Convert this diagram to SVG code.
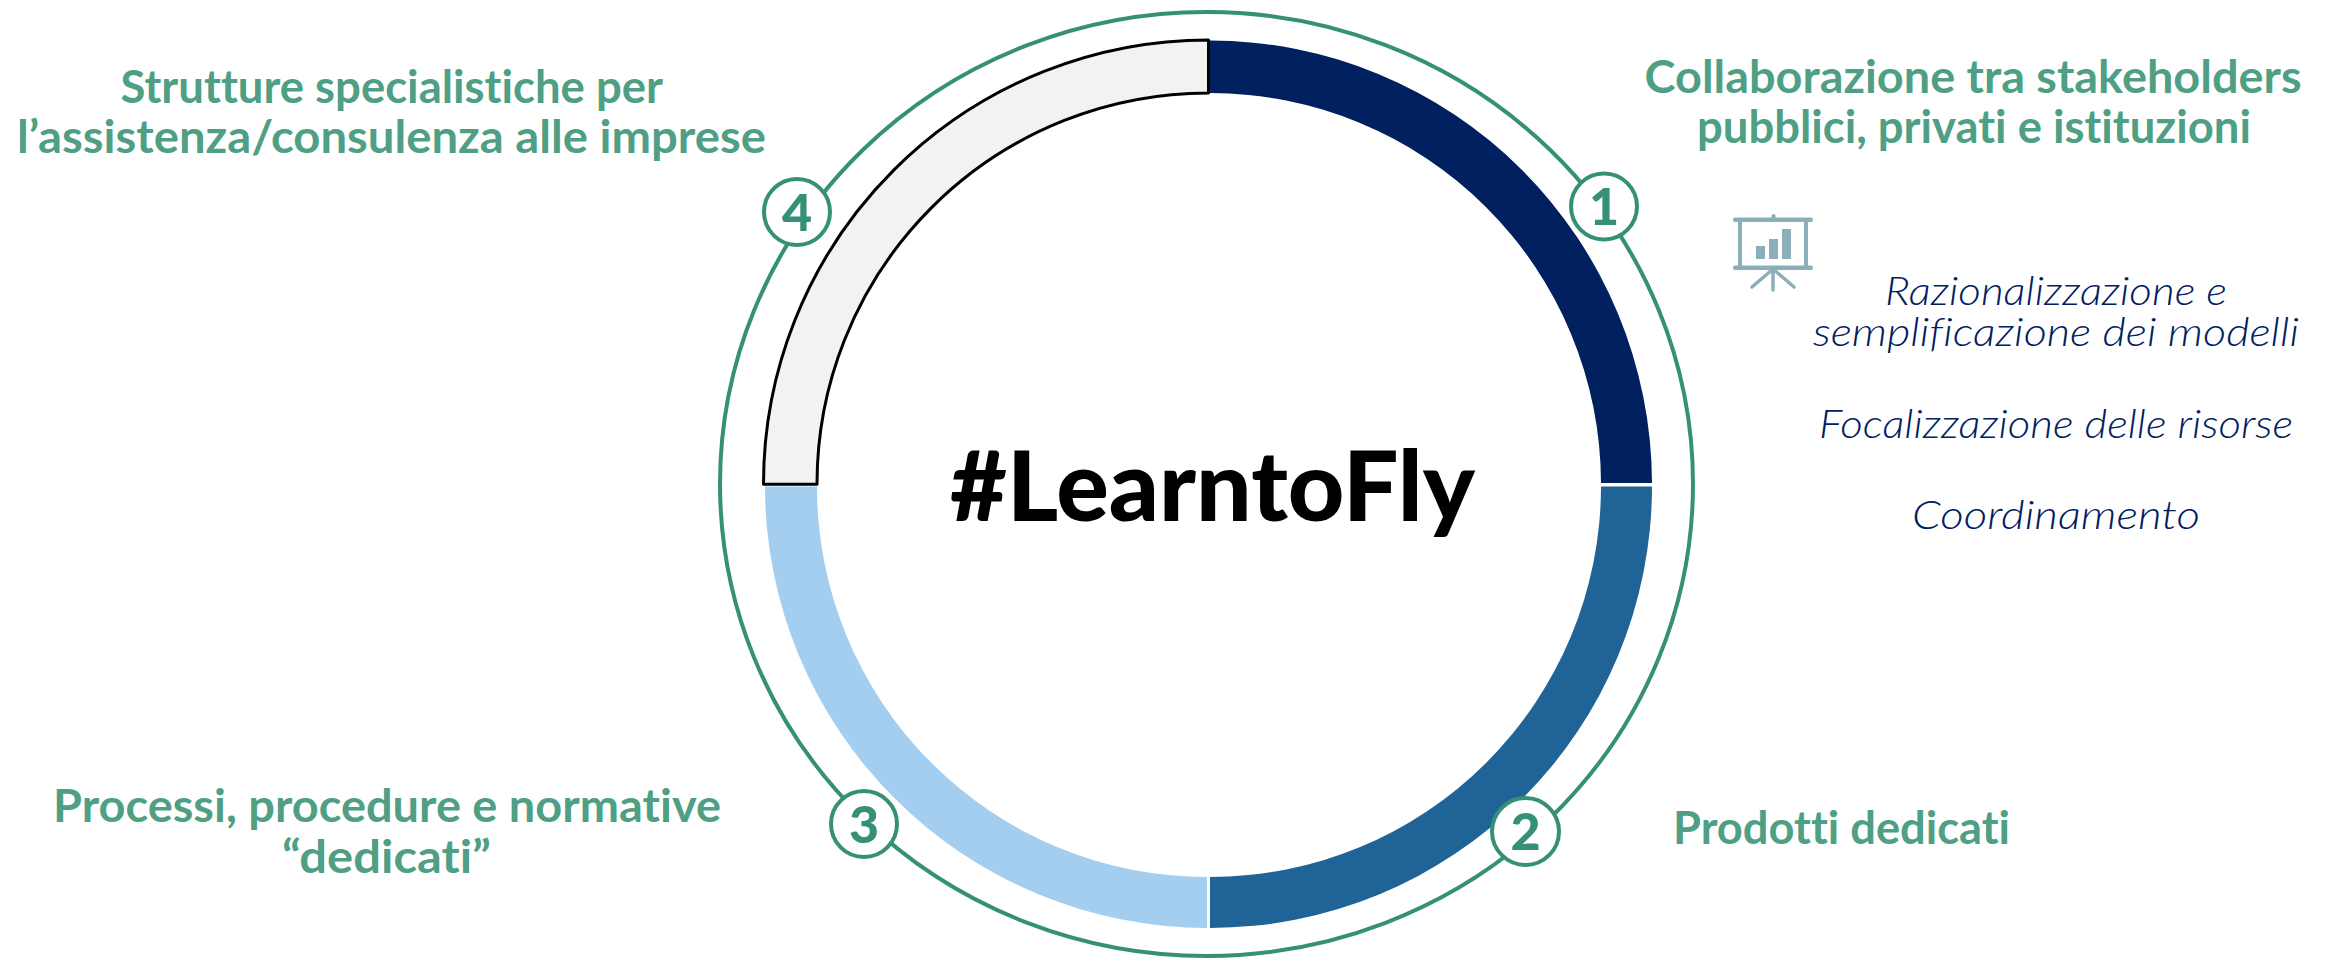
<svg xmlns="http://www.w3.org/2000/svg" width="2333" height="958" viewBox="0 0 2333 958">
<style>
text{font-variant-ligatures:none}
.h{font-family:"Lato","Liberation Sans",sans-serif;font-weight:700;font-size:45px;fill:#4f9f84}
.i{font-family:"Lato","Liberation Sans",sans-serif;font-style:italic;font-weight:300;font-size:39px;fill:#002060}
.n{font-family:"Lato","Liberation Sans",sans-serif;font-weight:900;font-size:52px;fill:#359077;text-anchor:middle}
.b{fill:#fff;stroke:#359077;stroke-width:4}
.seg{stroke:none}
</style>
<rect width="2333" height="958" fill="#fff"/>
<g id="connectors">
<ellipse cx="1206.5" cy="484" rx="486.5" ry="472" fill="none" stroke="#359077" stroke-width="4"/>
</g>
<g id="ring">
<path class="seg" fill="#002060" d="M1210 40.5A442 444 0 0 1 1652 483V483H1601A391 391 0 0 0 1210 93Z"/>
<path class="seg" fill="#1f6397" d="M1652 486.5A442 442 0 0 1 1210 928V877A391 391 0 0 0 1601 486.5Z"/>
<path class="seg" fill="#a3ceef" d="M1207 928A443 442 0 0 1 765 486.5H817A390 390 0 0 0 1207 877Z"/>
<path fill="#f2f2f2" stroke="#000" stroke-width="3" stroke-linejoin="round" d="M1208.500 40A445 444 0 0 0 763.500 484.300H817A391.500 391 0 0 1 1208.500 93Z"/>
</g>
<g id="center"><text x="950" y="520.700" textLength="525" lengthAdjust="spacingAndGlyphs" style="font-family:'Lato','Liberation Sans',sans-serif;font-weight:900;font-size:98px;fill:#000">#LearntoFly</text></g>
<g id="node1">
<circle class="b" cx="1604" cy="206.500" r="33"/><text class="n" x="1604" y="225">1</text>
<text class="h" x="1644.500" y="93" textLength="657" lengthAdjust="spacingAndGlyphs">Collaborazione tra stakeholders</text>
<text class="h" x="1697" y="143" textLength="554" lengthAdjust="spacingAndGlyphs">pubblici, privati e istituzioni</text>
</g>
<g id="icon" fill="#8aafbb">
<rect x="1771.500" y="214" width="4" height="8" rx="2"/>
<rect x="1733" y="217.500" width="80" height="4.500" rx="2"/>
<rect x="1733" y="265.500" width="80" height="4.500" rx="2"/>
<rect x="1738" y="220" width="4" height="47"/>
<rect x="1804" y="220" width="4" height="47"/>
<rect x="1756" y="246" width="9" height="13"/>
<rect x="1769" y="239" width="9" height="20"/>
<rect x="1782" y="229" width="9" height="30"/>
<path d="M1773 269V290M1773 269L1752 287M1773 269L1794 287" fill="none" stroke="#8aafbb" stroke-width="3.500" stroke-linecap="round"/>
</g>
<g id="detail1">
<text class="i" x="1885" y="305" textLength="342" lengthAdjust="spacingAndGlyphs">Razionalizzazione e</text>
<text class="i" x="1813" y="346" textLength="486" lengthAdjust="spacingAndGlyphs">semplificazione dei modelli</text>
<text class="i" x="1819" y="437.500" textLength="474" lengthAdjust="spacingAndGlyphs">Focalizzazione delle risorse</text>
<text class="i" x="1912" y="528.600" textLength="288" lengthAdjust="spacingAndGlyphs">Coordinamento</text>
</g>
<g id="node2">
<circle class="b" cx="1525.500" cy="831.500" r="33.500"/><text class="n" x="1525.500" y="850">2</text>
<text class="h" x="1673" y="844" textLength="337" lengthAdjust="spacingAndGlyphs">Prodotti dedicati</text>
</g>
<g id="node3">
<circle class="b" cx="864" cy="824" r="33"/><text class="n" x="864" y="843">3</text>
<text class="h" x="53" y="821.700" textLength="668" lengthAdjust="spacingAndGlyphs">Processi, procedure e normative</text>
<text class="h" x="282" y="872.700" textLength="209" lengthAdjust="spacingAndGlyphs">“dedicati”</text>
</g>
<g id="node4">
<circle class="b" cx="797" cy="212" r="33"/><text class="n" x="797" y="231">4</text>
<text class="h" x="120.500" y="102.700" textLength="542.500" lengthAdjust="spacingAndGlyphs">Strutture specialistiche per</text>
<text class="h" x="17" y="153" textLength="749" lengthAdjust="spacingAndGlyphs">l’assistenza/consulenza alle imprese</text>
</g>
</svg>
